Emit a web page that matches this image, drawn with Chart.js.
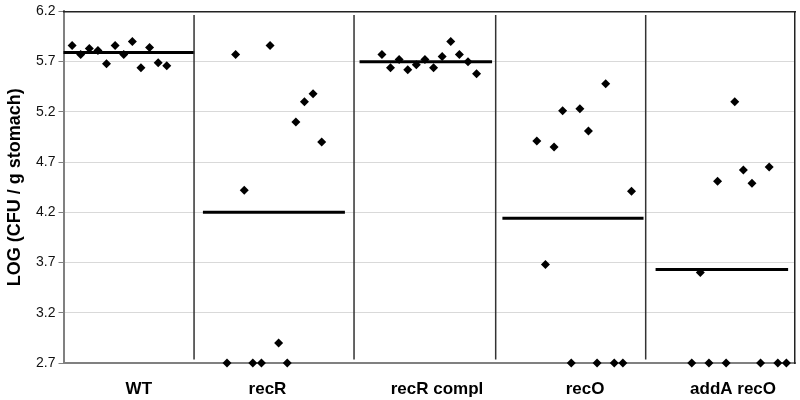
<!DOCTYPE html>
<html>
<head>
<meta charset="utf-8">
<script src="https://cdn.jsdelivr.net/npm/chart.js@4.4.0/dist/chart.umd.min.js"></script>
<style>
  html, body { margin: 0; padding: 0; background: #fff; }
</style>
</head>
<body>
<canvas id="chart" width="800" height="400"></canvas>
<script>
// group names and where their labels sit on the x axis (x units)
const categories = ['WT', 'recR', 'recR compl', 'recO', 'addA recO'];
const labelPos = [8.75, 23.7, 43.4, 60.6, 77.8];

// LOG CFU per mouse, 12 animals per group (2.7 = detection limit)
const wt        = [5.86, 5.77, 5.83, 5.81, 5.68, 5.86, 5.77, 5.90, 5.64, 5.84, 5.69, 5.66];
const recR      = [2.70, 5.77, 4.42, 2.70, 2.70, 5.86, 2.90, 2.70, 5.10, 5.30, 5.38, 4.90];
const recRCompl = [5.77, 5.64, 5.72, 5.62, 5.67, 5.72, 5.64, 5.75, 5.90, 5.77, 5.70, 5.58];
const recO      = [4.91, 3.68, 4.85, 5.21, 2.70, 5.23, 5.01, 2.70, 5.48, 2.70, 2.70, 4.41];
const addARecO  = [2.70, 3.60, 2.70, 4.51, 2.70, 5.30, 4.62, 4.49, 2.70, 4.65, 2.70, 2.70];

// group means and the x range each mean bar covers
const means = [5.79, 4.20, 5.70, 4.14, 3.63];
const meanFrom = [0, 16.2, 34.4, 51.0, 68.8];
const meanTo = [15.2, 32.7, 49.8, 67.4, 84.2];

// vertical dividers between groups
const dividers = [15.17, 33.76, 50.22, 67.65];
const dividerTop = 6.165;
const dividerBottom = 2.735;

const yTicks = [2.7, 3.2, 3.7, 4.2, 4.7, 5.2, 5.7, 6.2];

const FONT = "Arial, 'Liberation Sans', sans-serif";
const groups = [wt, recR, recRCompl, recO, addARecO];

const datasets = [];

// dividers first so points sit on top
dividers.forEach(x => {
  datasets.push({
    data: [{ x: x, y: dividerTop }, { x: x, y: dividerBottom }],
    showLine: true,
    borderColor: '#333',
    borderWidth: 1.5,
    pointRadius: 0,
    clip: false
  });
});

// mean bars
means.forEach((m, i) => {
  datasets.push({
    data: [{ x: meanFrom[i], y: m }, { x: meanTo[i], y: m }],
    showLine: true,
    borderColor: '#000',
    borderWidth: 3,
    pointRadius: 0,
    clip: false
  });
});

// individual animals, 18 x-units per group
groups.forEach((vals, g) => {
  datasets.push({
    data: vals.map((v, j) => ({ x: g * 18 + j + 1, y: v })),
    showLine: false,
    pointStyle: 'rectRot',
    pointRadius: 4.5,
    backgroundColor: '#000',
    borderColor: '#000',
    borderWidth: 0,
    clip: false
  });
});

new Chart(document.getElementById('chart'), {
  type: 'scatter',
  data: { datasets: datasets },
  options: {
    responsive: false,
    animation: false,
    devicePixelRatio: 1,
    layout: { padding: { top: 9, right: 5, left: 0, bottom: 0 } },
    plugins: {
      legend: { display: false },
      tooltip: { enabled: false }
    },
    scales: {
      x: {
        type: 'linear',
        min: 0,
        max: 85,
        afterBuildTicks: s => { s.ticks = labelPos.map(v => ({ value: v })); },
        afterFit: s => { s.height = 37; },
        ticks: {
          autoSkip: false,
          maxRotation: 0,
          callback: (v, i) => categories[i],
          font: { family: FONT, size: 17, weight: 'bold' },
          color: '#000',
          padding: 8
        },
        grid: { display: false },
        border: { color: '#808080', width: 2 }
      },
      y: {
        type: 'linear',
        min: 2.7,
        max: 6.2,
        afterBuildTicks: s => { s.ticks = yTicks.map(v => ({ value: v })); },
        afterFit: s => { s.width = 63.5; },
        ticks: {
          callback: v => v.toFixed(1),
          font: { family: FONT, size: 14 },
          color: '#111',
          padding: 3
        },
        grid: { color: '#d9d9d9', lineWidth: 1, tickLength: 5, tickColor: '#808080' },
        border: { color: '#808080', width: 2 },
        title: {
          display: true,
          text: 'LOG (CFU / g stomach)',
          font: { family: FONT, size: 18, weight: 'bold' },
          color: '#000',
          padding: { top: 4, bottom: 0 }
        }
      },
      xTop: {
        type: 'linear',
        position: 'top',
        min: 0,
        max: 85,
        ticks: { display: false },
        grid: { display: false, drawTicks: false },
        border: { color: '#222', width: 1.5 }
      },
      yRight: {
        type: 'linear',
        position: 'right',
        min: 2.7,
        max: 6.2,
        ticks: { display: false },
        grid: { display: false, drawTicks: false },
        border: { color: '#222', width: 1.5 }
      }
    }
  }
});
</script>
</body>
</html>
